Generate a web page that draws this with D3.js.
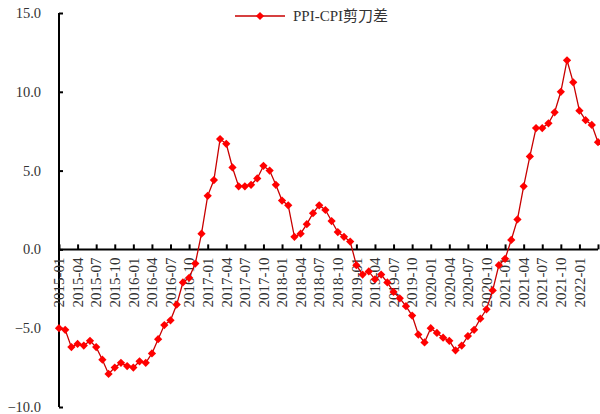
<!DOCTYPE html>
<html>
<head>
<meta charset="utf-8">
<script src="https://cdn.jsdelivr.net/npm/d3@7"></script>
<style>
  body { margin: 0; background: #fff; }
  svg text { font-family: "Liberation Serif", "Noto Sans CJK SC", serif; fill: #333; }
</style>
</head>
<body>
<div id="chart"></div>
<script>
const width = 600,
    height = 414

// monthly categories, 2015-01 .. 2022-04
var months = []
for (var yr = 2015; yr <= 2022; yr++) {
    for (var mo = 1; mo <= 12; mo++) {
        if (yr === 2022 && mo > 4) break
        months.push(yr + "-" + (mo < 10 ? "0" + mo : mo))
    }
}

var seriesName = "PPI-CPI剪刀差"

var gap = [
    -5.0, -5.1, -6.2, -6.0, -6.1, -5.8, -6.2, -7.0, -7.9, -7.5, -7.2, -7.4,
    -7.5, -7.1, -7.2, -6.6, -5.7, -4.8, -4.5, -3.5, -2.1, -1.8, -0.9, 1.0,
    3.4, 4.4, 7.0, 6.7, 5.2, 4.0, 4.0, 4.1, 4.5, 5.3, 5.0, 4.1,
    3.1, 2.8, 0.8, 1.0, 1.6, 2.3, 2.8, 2.5, 1.8, 1.1, 0.8, 0.5,
    -1.0, -1.6, -1.4, -1.9, -1.6, -2.1, -2.7, -3.1, -3.6, -4.2, -5.4, -5.9,
    -5.0, -5.3, -5.6, -5.8, -6.4, -6.1, -5.5, -5.1, -4.4, -3.8, -2.6, -1.0,
    -0.6, 0.6, 1.9, 4.0, 5.9, 7.7, 7.7, 8.0, 8.7, 10.0, 12.0, 10.6,
    8.8, 8.2, 7.9, 6.8
]

var yTicks = [-10, -5, 0, 5, 10, 15]

var svg = d3.select("#chart")
    .append("svg")
    .attr("width", width)
    .attr("height", height)

var x = d3.scaleLinear()
    .domain([0, months.length - 1])
    .range([59, 598])

var y = d3.scaleLinear()
    .domain([-10, 15])
    .range([407, 13])

// y axis, ticks pointing into the plot
var yAxis = svg.append("g")
    .attr("transform", `translate(${x(0)},0)`)
    .call(d3.axisRight(y).tickValues(yTicks).tickSize(4).tickFormat(""))
yAxis.select(".domain").attr("stroke", "#000").attr("stroke-width", 2)
    .attr("d", `M0,${y(15)}V${y(-10)}`)
yAxis.selectAll(".tick line").attr("stroke", "#000").attr("stroke-width", 2)

svg.append("g")
    .selectAll("text")
    .data(yTicks)
    .enter()
    .append("text")
    .attr("x", 41)
    .attr("y", d => y(d))
    .attr("dy", "0.35em")
    .attr("text-anchor", "end")
    .style("font-size", "14.5px")
    .text(d => d3.format(".1f")(d))

// x axis at zero, ticks every 3 months pointing up
var tickIdx = d3.range(0, months.length, 3)
var xAxis = svg.append("g")
    .attr("transform", `translate(0,${y(0)})`)
    .call(d3.axisTop(x).tickValues(tickIdx).tickSize(5).tickFormat(""))
xAxis.select(".domain").attr("stroke", "#000").attr("stroke-width", 2)
    .attr("d", `M${x(0)},0H${x(months.length - 1)}`)
xAxis.selectAll(".tick line").attr("stroke", "#000").attr("stroke-width", 2)

svg.append("g")
    .selectAll("text")
    .data(tickIdx.filter(i => i <= 84))
    .enter()
    .append("text")
    .attr("transform", i => `translate(${x(i)},${y(0) + 8}) rotate(-90)`)
    .attr("dy", "0.35em")
    .attr("text-anchor", "end")
    .style("font-size", "15px")
    .text(i => months[i])

// series
var line = d3.line()
    .x((d, i) => x(i))
    .y(d => y(d))

svg.append("path")
    .datum(gap)
    .attr("fill", "none")
    .attr("stroke", "#c80000")
    .attr("stroke-width", 1.3)
    .attr("d", line)

var diamond = d3.symbol().type(d3.symbolSquare).size(34)

svg.append("g")
    .selectAll("path")
    .data(gap)
    .enter()
    .append("path")
    .attr("d", diamond)
    .attr("fill", "#ff0000")
    .attr("transform", (d, i) => `translate(${x(i)},${y(d)}) rotate(45)`)

// legend
var lg = svg.append("g").attr("transform", "translate(235,16)")
lg.append("line")
    .attr("x1", 0).attr("x2", 50)
    .attr("stroke", "#c80000").attr("stroke-width", 1.3)
lg.append("path")
    .attr("d", diamond)
    .attr("fill", "#ff0000")
    .attr("transform", "translate(25,0) rotate(45)")
lg.append("text")
    .attr("x", 58)
    .attr("dy", "0.35em")
    .style("font-size", "15px")
    .text(seriesName)
</script>
</body>
</html>
